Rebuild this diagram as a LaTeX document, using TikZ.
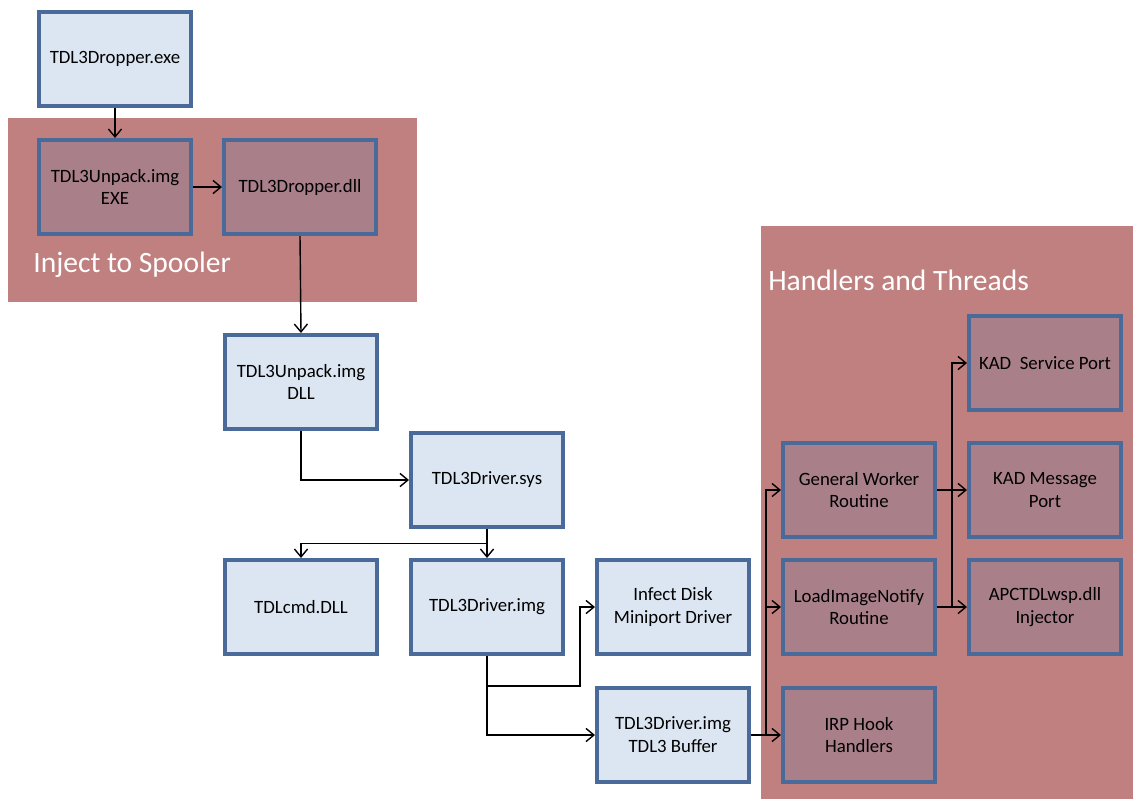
\documentclass[tikz,border=0pt]{standalone}
\usepackage{fontspec}
\setmainfont{Carlito}
\usetikzlibrary{arrows.meta,calc}
\definecolor{lightfill}{HTML}{DCE6F2}
\definecolor{boxborder}{HTML}{4A6A9A}
\definecolor{regionfill}{HTML}{C0807F}
\definecolor{innerfill}{HTML}{A97F8A}
\begin{document}
\begin{tikzpicture}[x=0.02cm,y=-0.02cm,
  lb/.style={draw=boxborder,line width=2.3pt,fill=lightfill,minimum width=3.04cm,minimum height=1.88cm,align=center,font=\fontsize{10.7}{13}\selectfont,inner sep=2pt},
  mb/.style={lb,fill=innerfill},
  region/.style={fill=regionfill,draw=none},
  rtitle/.style={text=white,font=\fontsize{16.8}{19}\selectfont,anchor=west,inner sep=0pt},
  arr/.style={line width=0.8pt,-{Straight Barb[length=4.5pt,width=7.5pt]}},
  ln/.style={line width=0.8pt}]
\useasboundingbox (0,0) rectangle (1133,799);
% regions
\fill[region] (8,118) rectangle (417,302);
\fill[region] (761,226) rectangle (1133,799);
\node[rtitle] (t1) at (33,265) {Inject to Spooler};
\node[rtitle] (t2) at (768,280) {Handlers and Threads};
% boxes
\node[lb] (exe) at (115,59) {TDL3Dropper.exe};
\node[mb] (unpexe) at (115,187) {TDL3Unpack.img\\EXE};
\node[mb] (dropdll) at (300,187) {TDL3Dropper.dll};
\node[lb] (unpdll) at (301,382) {TDL3Unpack.img\\DLL};
\node[lb] (sys) at (487,480) {TDL3Driver.sys};
\node[lb] (cmd) at (301,607) {TDLcmd.DLL};
\node[lb] (img) at (487,607) {TDL3Driver.img};
\node[lb] (infect) at (673,607) {Infect Disk\\Miniport Driver};
\node[lb] (buf) at (673,735) {TDL3Driver.img\\TDL3 Buffer};
\node[mb] (gw) at (859,490) {General Worker\\Routine};
\node[mb] (lin) at (859,607) {LoadImageNotify\\Routine};
\node[mb] (irp) at (859,735) {IRP Hook\\Handlers};
\node[mb] (kads) at (1045,363) {KAD\ \ Service Port};
\node[mb] (kadm) at (1045,490) {KAD Message\\Port};
\node[mb] (apc) at (1045,607) {APCTDLwsp.dll\\Injector};
% helper coordinates
\coordinate (j1) at (580,686);
\coordinate (bg) at (766,490);
\coordinate (bl) at (766,607);
\coordinate (rb) at (952,607);
% connectors
\draw[arr] (exe.south) -- (unpexe.north);
\draw[arr] (unpexe.east) -- (dropdll.west);
\draw[arr] (dropdll.south) -- (unpdll.north);
\draw[arr] (unpdll.south) |- (sys.west);
\draw[arr] (sys.south) -- (img.north);
\draw[arr] ($(sys.south)!0.5!(img.north)$) -| (cmd.north);
\draw[arr] (img.south) |- (j1) |- (infect.west);
\draw[arr] (img.south) |- (buf.west);
\draw[arr] (buf.east) -- (irp.west);
\draw[arr] (buf.east) -| (bg) -- (gw.west);
\draw[arr] (bl) -- (lin.west);
\draw[arr] (gw.east) -- (kadm.west);
\draw[arr] (lin.east) -- (apc.west);
\draw[arr] (rb) |- (kads.west);
\end{tikzpicture}
\end{document}
